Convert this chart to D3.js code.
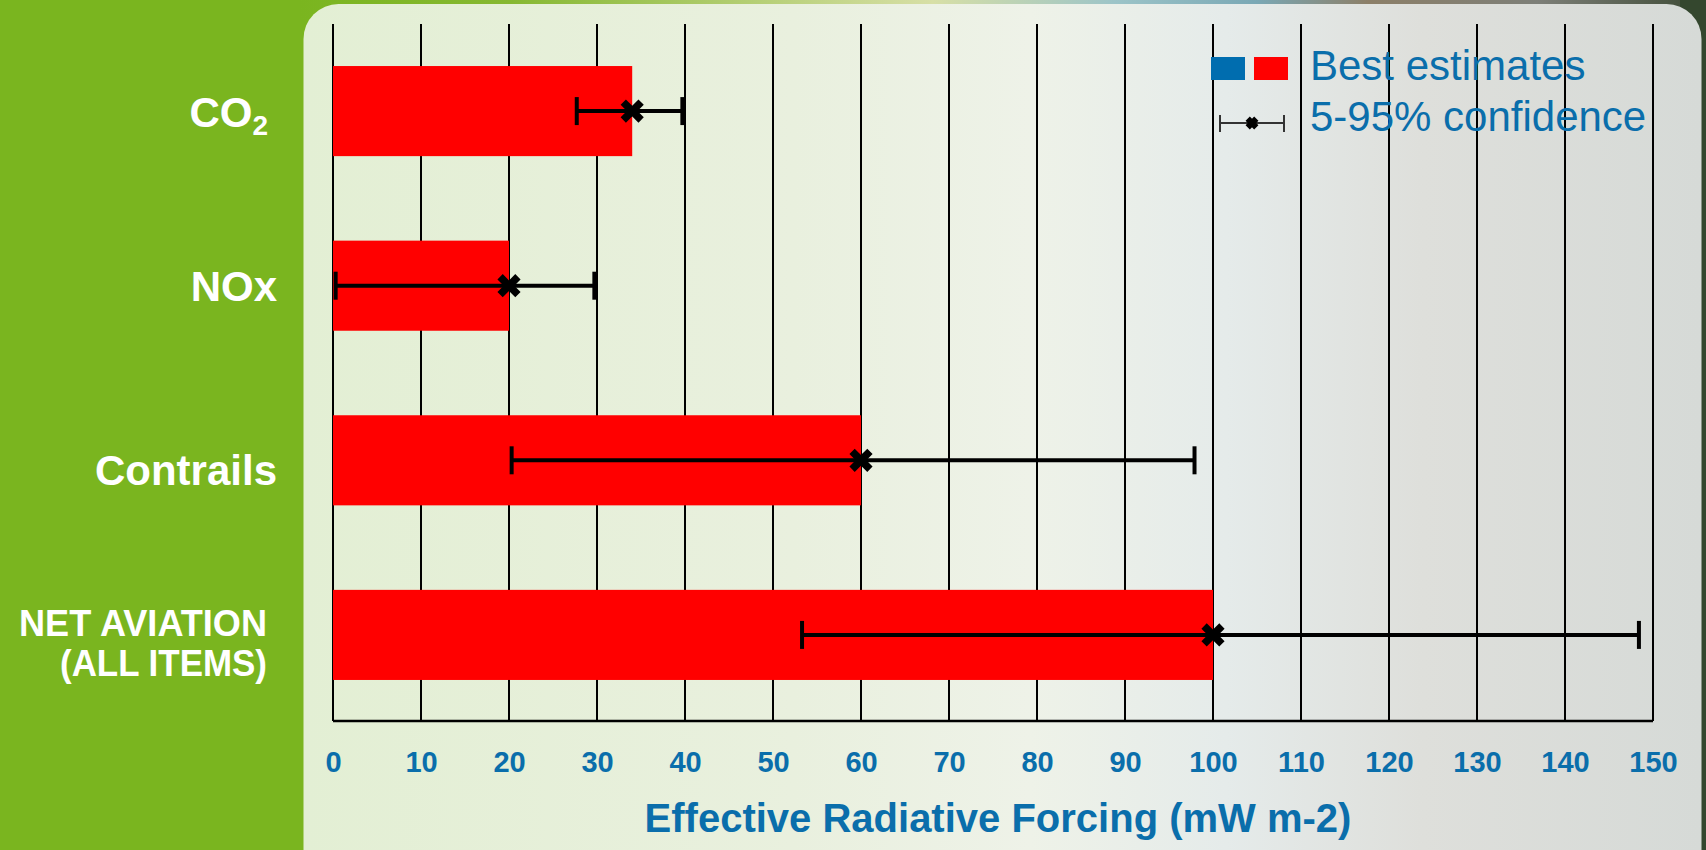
<!DOCTYPE html>
<html>
<head>
<meta charset="utf-8">
<script src="https://cdn.jsdelivr.net/npm/d3@7"></script>
<style>
  html, body { margin: 0; padding: 0; background: #7ab51f; }
  svg { display: block; }
</style>
</head>
<body>
<div id="chart"></div>
<script>
// data (mW m-2)
const categories = ["CO2", "NOx", "Contrails", "NET AVIATION\n(ALL ITEMS)"];
const bestEstimates = [34, 20, 60, 100];
const lowBounds = [27.7, 0.3, 20.3, 53.3];
const highBounds = [39.7, 29.7, 97.9, 148.4];
const xTicks = [0, 10, 20, 30, 40, 50, 60, 70, 80, 90, 100, 110, 120, 130, 140, 150];
const legendLabels = ["Best estimates", "5-95% confidence"];
const axisTitle = "Effective Radiative Forcing (mW m-2)";

const W = 1706, H = 850;
const blue = "#0a6eab";

const svg = d3.select("#chart").append("svg")
  .attr("width", W)
  .attr("height", H);

const defs = svg.append("defs");

const panelGrad = defs.append("linearGradient").attr("id", "panelGrad");
[["0%", "#e3efd4"], ["35%", "#e9f0de"], ["52%", "#eef2e8"], ["66%", "#e5ebea"], ["80%", "#dedfdb"], ["100%", "#d6dad7"]]
  .forEach(([o, c]) => panelGrad.append("stop").attr("offset", o).attr("stop-color", c));

const topGrad = defs.append("linearGradient").attr("id", "topGrad");
[["0%", "#7ab51f"], ["15%", "#86b832"], ["45%", "#d7dfa6"], ["58%", "#9cc4c8"], ["68%", "#7aa8b5"], ["76%", "#8c7f68"], ["88%", "#7d7f78"], ["100%", "#3d4a35"]]
  .forEach(([o, c]) => topGrad.append("stop").attr("offset", o).attr("stop-color", c));

// background
svg.append("rect").attr("width", W).attr("height", H).attr("fill", "#7ab51f");
svg.append("rect").attr("x", 300).attr("y", 0).attr("width", W - 300).attr("height", 20).attr("fill", "url(#topGrad)");
svg.append("rect").attr("x", 1680).attr("y", 0).attr("width", 26).attr("height", H).attr("fill", "#34472e");
svg.append("rect")
  .attr("x", 303.5).attr("y", 4)
  .attr("width", 1398).attr("height", 880)
  .attr("rx", 35)
  .attr("fill", "url(#panelGrad)");

const x = d3.scaleLinear().domain([0, 150]).range([333, 1653]);
const y = d3.scaleBand()
  .domain(categories)
  .range([25, 721])
  .paddingInner(0.484)
  .paddingOuter(0.235);

const rows = categories.map((c, i) => ({
  name: c, value: bestEstimates[i], low: lowBounds[i], high: highBounds[i]
}));

// vertical grid
svg.append("g").selectAll("line")
  .data(xTicks)
  .join("line")
  .attr("x1", d => x(d)).attr("x2", d => x(d))
  .attr("y1", 24).attr("y2", 721)
  .attr("stroke", "#000")
  .attr("stroke-width", 2);

// bars
svg.append("g").selectAll("rect")
  .data(rows)
  .join("rect")
  .attr("x", x(0))
  .attr("y", d => y(d.name))
  .attr("width", d => x(d.value) - x(0))
  .attr("height", y.bandwidth())
  .attr("fill", "#ff0000");

// bottom axis line
svg.append("line")
  .attr("x1", x(0)).attr("x2", x(150))
  .attr("y1", 721).attr("y2", 721)
  .attr("stroke", "#000")
  .attr("stroke-width", 2.5);

// error bars
const err = svg.append("g").selectAll("g")
  .data(rows)
  .join("g")
  .attr("transform", d => `translate(0,${y(d.name) + y.bandwidth() / 2})`);

err.append("line")
  .attr("x1", d => x(d.low)).attr("x2", d => x(d.high))
  .attr("stroke", "#000").attr("stroke-width", 4);

err.selectAll(".cap")
  .data(d => [d.low, d.high])
  .join("line")
  .attr("class", "cap")
  .attr("x1", d => x(d)).attr("x2", d => x(d))
  .attr("y1", -14).attr("y2", 14)
  .attr("stroke", "#000").attr("stroke-width", 4);

err.append("path")
  .attr("d", d3.symbol(d3.symbolX, 210))
  .attr("transform", d => `translate(${x(d.value)},0)`)
  .attr("fill", "none")
  .attr("stroke", "#000")
  .attr("stroke-width", 7.5);

// x axis labels
const xAxis = d3.axisBottom(x).tickValues(xTicks).tickSize(0).tickPadding(30);
const xAxisG = svg.append("g")
  .attr("transform", "translate(0,721)")
  .call(xAxis)
  .call(g => g.select(".domain").remove());
xAxisG.selectAll("text")
  .attr("fill", blue)
  .style("font-family", "'Liberation Sans', Arial, sans-serif")
  .style("font-weight", "bold")
  .style("font-size", "29px");

svg.append("text")
  .attr("x", 998)
  .attr("y", 832)
  .attr("text-anchor", "middle")
  .attr("fill", blue)
  .style("font-family", "'Liberation Sans', Arial, sans-serif")
  .style("font-weight", "bold")
  .style("font-size", "40px")
  .text(axisTitle);

// category labels
const labelG = svg.append("g")
  .attr("fill", "#fff")
  .style("font-family", "'Liberation Sans', Arial, sans-serif")
  .style("font-weight", "bold");

rows.forEach(d => {
  const cy = y(d.name) + y.bandwidth() / 2;
  if (d.name === "CO2") {
    const t = labelG.append("text")
      .attr("x", 268).attr("y", cy + 16)
      .attr("text-anchor", "end")
      .style("font-size", "42px");
    t.append("tspan").text("CO");
    t.append("tspan").attr("dy", 8).style("font-size", "28px").text("2");
  } else if (d.name.includes("\n")) {
    d.name.split("\n").forEach((line, i) => {
      labelG.append("text")
        .attr("x", 267).attr("y", cy + 1 + i * 40)
        .attr("text-anchor", "end")
        .attr("textLength", i === 0 ? 248 : 207)
        .attr("lengthAdjust", "spacingAndGlyphs")
        .style("font-size", "37px")
        .text(line);
    });
  } else {
    labelG.append("text")
      .attr("x", 277).attr("y", cy + (d.name === "Contrails" ? 25 : 15))
      .attr("text-anchor", "end")
      .style("font-size", "42px")
      .text(d.name);
  }
});

// legend
const legend = svg.append("g");
legend.append("rect").attr("x", 1211).attr("y", 57).attr("width", 34).attr("height", 23).attr("fill", "#006daf");
legend.append("rect").attr("x", 1254).attr("y", 57).attr("width", 34).attr("height", 23).attr("fill", "#ff0000");
legend.append("line").attr("x1", 1220).attr("x2", 1284).attr("y1", 123).attr("y2", 123)
  .attr("stroke", "#333").attr("stroke-width", 2);
[1220, 1284].forEach(px => legend.append("line")
  .attr("x1", px).attr("x2", px).attr("y1", 115).attr("y2", 132)
  .attr("stroke", "#333").attr("stroke-width", 2));
legend.append("path")
  .attr("d", d3.symbol(d3.symbolX, 50))
  .attr("transform", "translate(1252,123)")
  .attr("stroke", "#000").attr("stroke-width", 6);

legend.selectAll("text")
  .data(legendLabels)
  .join("text")
  .attr("x", 1310)
  .attr("y", (d, i) => 80 + i * 51)
  .attr("fill", blue)
  .style("font-family", "'Liberation Sans', Arial, sans-serif")
  .style("font-size", "42px")
  .text(d => d);
</script>
</body>
</html>
